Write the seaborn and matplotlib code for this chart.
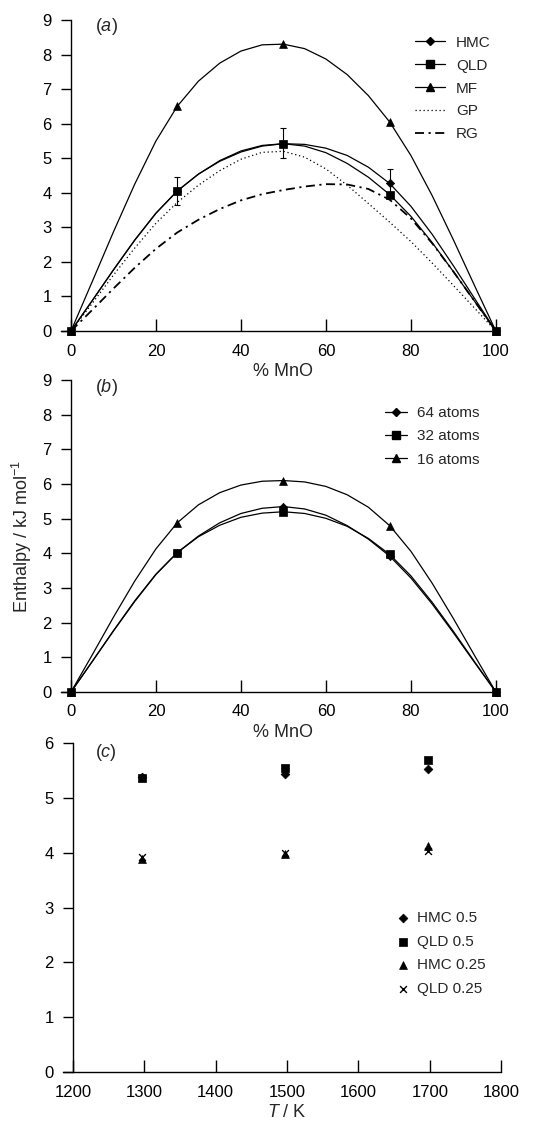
import matplotlib
matplotlib.use('Agg')
import matplotlib.pyplot as plt
from matplotlib.lines import Line2D
import seaborn as sns

# --- Data ---
# (a) and (b): % MnO at the computed points, plus the smoothed traces
X_PTS = [0, 25, 50, 75, 100]
X_CURVE = [0, 5, 10, 15, 20, 25, 30, 35, 40, 45, 50,
           55, 60, 65, 70, 75, 80, 85, 90, 95, 100]

HMC_PTS = [0, 4.05, 5.42, 4.27, 0]
QLD_PTS = [0, 4.05, 5.42, 3.95, 0]
MF_PTS = [0, 6.5, 8.3, 6.05, 0]

HMC_CURVE = [0, 0.88, 1.77, 2.63, 3.41, 4.05, 4.54, 4.91, 5.18, 5.35, 5.42,
             5.40, 5.29, 5.08, 4.74, 4.27, 3.61, 2.80, 1.89, 0.94, 0]
QLD_CURVE = [0, 0.88, 1.77, 2.63, 3.41, 4.05, 4.54, 4.93, 5.21, 5.37, 5.42,
             5.35, 5.16, 4.85, 4.45, 3.95, 3.32, 2.56, 1.72, 0.86, 0]
MF_CURVE = [0, 1.43, 2.87, 4.25, 5.50, 6.5, 7.23, 7.75, 8.10, 8.28, 8.3,
            8.17, 7.87, 7.42, 6.81, 6.05, 5.08, 3.92, 2.64, 1.31, 0]
GP_CURVE = [0, 0.80, 1.62, 2.40, 3.12, 3.72, 4.22, 4.64, 4.97, 5.17, 5.2,
            5.03, 4.69, 4.22, 3.69, 3.15, 2.59, 1.97, 1.32, 0.66, 0]
RG_CURVE = [0, 0.61, 1.23, 1.83, 2.38, 2.85, 3.22, 3.53, 3.78, 3.96, 4.08,
            4.18, 4.25, 4.24, 4.11, 3.80, 3.26, 2.54, 1.72, 0.86, 0]

ERR_X = [25, 50, 75]
ERR_Y = [4.05, 5.44, 4.29]
ERR = [0.40, 0.42, 0.40]

A64_PTS = [0, 4.02, 5.35, 3.92, 0]
A32_PTS = [0, 4.02, 5.20, 3.97, 0]
A16_PTS = [0, 4.88, 6.10, 4.80, 0]

A64_CURVE = [0, 0.88, 1.76, 2.61, 3.39, 4.02, 4.50, 4.88, 5.15, 5.30, 5.35,
             5.28, 5.10, 4.80, 4.41, 3.92, 3.29, 2.54, 1.71, 0.85, 0]
A32_CURVE = [0, 0.88, 1.77, 2.63, 3.40, 4.02, 4.48, 4.81, 5.04, 5.16, 5.20,
             5.15, 5.01, 4.78, 4.43, 3.97, 3.35, 2.59, 1.75, 0.87, 0]
A16_CURVE = [0, 1.07, 2.16, 3.20, 4.13, 4.88, 5.40, 5.75, 5.97, 6.08, 6.10,
             6.06, 5.93, 5.69, 5.33, 4.80, 4.06, 3.14, 2.12, 1.05, 0]

# (c): temperature dependence
T_PTS = [1297, 1497, 1697]
HMC_05 = [5.38, 5.43, 5.52]
QLD_05 = [5.37, 5.54, 5.69]
HMC_025 = [3.89, 3.97, 4.13]
QLD_025 = [3.93, 4.00, 4.03]

# --- Style ---
sns.set_style('ticks')
plt.rcParams['font.family'] = ['Liberation Sans', 'DejaVu Sans']
plt.rcParams['mathtext.fontset'] = 'custom'
plt.rcParams['mathtext.rm'] = 'Liberation Sans'
plt.rcParams['mathtext.it'] = 'Liberation Sans:italic'
TICK_FS = 12
LABEL_FS = 13
LEG_FS = 11
LW = 0.9
RG_STYLE = (0, (5, 2.5, 1.2, 2.5))
GP_STYLE = (0, (1, 2.2))


def style_axes(ax, xlim, ylim, xticks, yticks, spine_start):
    ax.set_xlim(*xlim)
    ax.set_ylim(*ylim)
    ax.set_xticks(xticks)
    ax.set_yticks(yticks)
    for side in ['top', 'right']:
        ax.spines[side].set_visible(False)
    for side in ['left', 'bottom']:
        ax.spines[side].set_linewidth(1.0)
        ax.spines[side].set_color('black')
    ax.spines['bottom'].set_bounds(spine_start, xlim[1])
    ax.tick_params(axis='x', direction='in', length=8.5, width=1.0,
                   pad=9, labelsize=TICK_FS, colors='black')
    ax.tick_params(axis='y', direction='out', length=7, width=1.0,
                   pad=7, labelsize=TICK_FS, colors='black')


def curve(ax, y, ls='-', lw=LW):
    sns.lineplot(x=X_CURVE, y=y, ax=ax, color='black', lw=lw,
                 linestyle=ls, estimator=None)


def points(ax, x, y, marker, s):
    sns.scatterplot(x=x, y=y, ax=ax, color='black', marker=marker, s=s,
                    edgecolor='black', linewidth=0.5, clip_on=False, zorder=5)


fig = plt.figure(figsize=(5.44, 11.21), dpi=100)
ax_a = fig.add_axes([0.1305, 0.7047, 0.781, 0.2775])
ax_b = fig.add_axes([0.1305, 0.3827, 0.781, 0.2783])
ax_c = fig.add_axes([0.1342, 0.0437, 0.787, 0.2935])

# --- (a) ---
curve(ax_a, GP_CURVE, GP_STYLE)
curve(ax_a, RG_CURVE, RG_STYLE, lw=1.3)
curve(ax_a, MF_CURVE)
curve(ax_a, HMC_CURVE)
curve(ax_a, QLD_CURVE)
ax_a.errorbar(ERR_X, ERR_Y, yerr=ERR, fmt='none', ecolor='black',
              elinewidth=0.8, capsize=2.5, capthick=0.8, zorder=4)
points(ax_a, X_PTS, MF_PTS, '^', 32)
points(ax_a, X_PTS, HMC_PTS, 'D', 18)
points(ax_a, X_PTS, QLD_PTS, 's', 34)
style_axes(ax_a, (0, 100), (0, 9), [0, 20, 40, 60, 80, 100], range(10), -2.4)
ax_a.set_xlabel('% MnO', fontsize=LABEL_FS, labelpad=3)
ax_a.set_ylabel('')
ax_a.text(5.6, 8.82, '($\\mathit{a}$)', fontsize=LABEL_FS, va='center')

handles_a = [
    Line2D([], [], color='k', lw=LW, marker='D', ms=4),
    Line2D([], [], color='k', lw=LW, marker='s', ms=5.5),
    Line2D([], [], color='k', lw=LW, marker='^', ms=5.5),
    Line2D([], [], color='k', lw=LW, linestyle=GP_STYLE),
    Line2D([], [], color='k', lw=1.3, linestyle=RG_STYLE),
]
ax_a.legend(handles_a, ['HMC', 'QLD', 'MF', 'GP', 'RG'], loc='upper left',
            bbox_to_anchor=(0.809, 0.949), frameon=False, fontsize=LEG_FS,
            handlelength=2.0, handletextpad=0.7, labelspacing=0.58,
            borderpad=0, borderaxespad=0)

# --- (b) ---
curve(ax_b, A16_CURVE)
curve(ax_b, A64_CURVE)
curve(ax_b, A32_CURVE)
points(ax_b, X_PTS, A16_PTS, '^', 32)
points(ax_b, X_PTS, A64_PTS, 'D', 18)
points(ax_b, X_PTS, A32_PTS, 's', 34)
style_axes(ax_b, (0, 100), (0, 9), [0, 20, 40, 60, 80, 100], range(10), -2.4)
ax_b.set_xlabel('% MnO', fontsize=LABEL_FS, labelpad=3)
ax_b.set_ylabel('Enthalpy / kJ mol$^{-1}$', fontsize=LABEL_FS, labelpad=6)
ax_b.text(5.6, 8.77, '($\\mathit{b}$)', fontsize=LABEL_FS, va='center')

handles_b = [
    Line2D([], [], color='k', lw=LW, marker='D', ms=4),
    Line2D([], [], color='k', lw=LW, marker='s', ms=5.5),
    Line2D([], [], color='k', lw=LW, marker='^', ms=5.5),
]
ax_b.legend(handles_b, ['64 atoms', '32 atoms', '16 atoms'], loc='upper left',
            bbox_to_anchor=(0.74, 0.916), frameon=False, fontsize=LEG_FS,
            handlelength=1.4, handletextpad=0.7, labelspacing=0.6,
            borderpad=0, borderaxespad=0)

# --- (c) ---
sns.scatterplot(x=T_PTS, y=HMC_05, ax=ax_c, color='black', marker='D', s=20,
                linewidth=0.5, edgecolor='black', label='HMC 0.5', zorder=5)
sns.scatterplot(x=T_PTS, y=QLD_05, ax=ax_c, color='black', marker='s', s=34,
                linewidth=0.5, edgecolor='black', label='QLD 0.5', zorder=4)
sns.scatterplot(x=T_PTS, y=HMC_025, ax=ax_c, color='black', marker='^', s=32,
                linewidth=0.5, edgecolor='black', label='HMC 0.25', zorder=4)
sns.scatterplot(x=T_PTS, y=QLD_025, ax=ax_c, color='black', marker='x', s=24,
                linewidth=1.0, label='QLD 0.25', zorder=5)
style_axes(ax_c, (1200, 1800), (0, 6), [1200, 1300, 1400, 1500, 1600, 1700, 1800],
           range(7), 1186)
ax_c.set_xlabel('$\\mathit{T}$ / K', fontsize=LABEL_FS, labelpad=3)
ax_c.set_ylabel('')
ax_c.text(1231, 5.82, '($\\mathit{c}$)', fontsize=LABEL_FS, va='center')
ax_c.legend(loc='upper left', bbox_to_anchor=(0.757, 0.49), frameon=False,
            fontsize=LEG_FS, handlelength=0.8, handletextpad=0.5,
            labelspacing=0.64, borderpad=0, borderaxespad=0)

plt.savefig('out.png', dpi=100)
plt.close()
